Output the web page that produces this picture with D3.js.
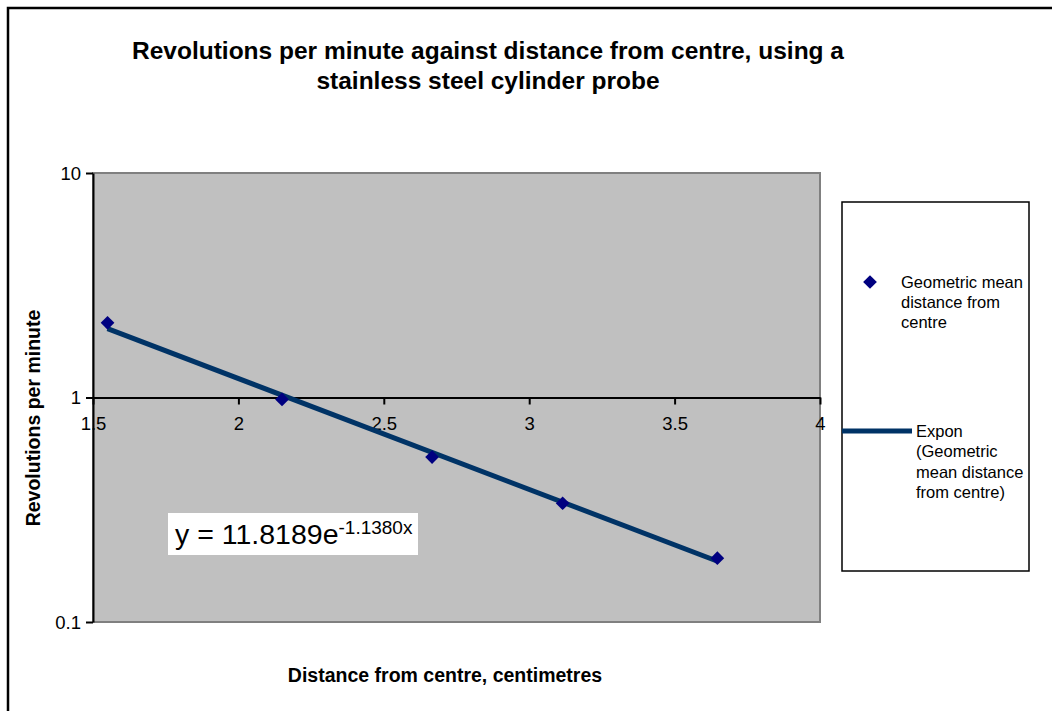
<!DOCTYPE html>
<html>
<head>
<meta charset="utf-8">
<script src="https://cdn.jsdelivr.net/npm/d3@7"></script>
<style>
  body { margin: 0; background: #fff; }
  text { font-family: Arial, "Liberation Sans", sans-serif; }
</style>
</head>
<body>
<div id="div_chart"></div>
<script>
// measured points: distance (cm) and revolutions per minute
const distance = [1.55, 2.15, 2.666, 3.115, 3.647];
const rpm = [2.15, 0.98, 0.543, 0.338, 0.1925];

// trendline ends
const trendX = [1.55, 3.65];
const trendY = [2.025, 0.186];

const xTicks = [1.5, 2, 2.5, 3, 3.5, 4];
const yTicks = [0.1, 1, 10];

const seriesName = ["Geometric mean", "distance from", "centre"];
const trendName = ["Expon", "(Geometric", "mean distance", "from centre)"];

// set the dimensions of the page and the plot area
const W = 1052, H = 711;
const plot = {left: 93, right: 820, top: 173, bottom: 622};

const svg = d3.select("#div_chart")
  .append("svg")
    .attr("width", W)
    .attr("height", H);

// outer frame (left and top edges visible)
svg.append("path")
  .attr("d", `M8,${H} L8,8 L${W},8`)
  .attr("fill", "none")
  .attr("stroke", "#000")
  .attr("stroke-width", 2.5);

// title
svg.append("text")
  .attr("text-anchor", "middle")
  .attr("font-weight", "bold")
  .attr("font-size", 24.5)
  .selectAll("tspan")
  .data(["Revolutions per minute against distance from centre, using a", "stainless steel cylinder probe"])
  .join("tspan")
    .attr("x", 488)
    .attr("y", (d, i) => 59 + i * 30)
    .text(d => d);

// scales
const x = d3.scaleLinear()
  .domain([1.5, 4])
  .range([plot.left, plot.right]);
const y = d3.scaleLog()
  .domain([0.1, 10])
  .range([plot.bottom, plot.top]);

// plot area
svg.append("rect")
  .attr("x", plot.left)
  .attr("y", plot.top)
  .attr("width", plot.right - plot.left)
  .attr("height", plot.bottom - plot.top)
  .attr("fill", "#c0c0c0")
  .attr("stroke", "#808080")
  .attr("stroke-width", 2);

// Y axis
const yAxis = svg.append("g")
  .attr("transform", `translate(${plot.left},0)`)
  .call(d3.axisLeft(y).tickValues(yTicks).tickFormat(d3.format("")).tickSize(7).tickSizeOuter(0));
yAxis.attr("font-size", 18.5);
yAxis.select(".domain").attr("stroke", "#000").attr("stroke-width", 2);
yAxis.selectAll(".tick line").attr("stroke-width", 2);
yAxis.selectAll(".tick text")
  .attr("fill", "#000")
  .attr("x", -12)
  .attr("dy", "0.35em");

// X axis, crossing at y = 1
const xAxis = svg.append("g")
  .attr("transform", `translate(0,${y(1)})`)
  .call(d3.axisBottom(x).tickValues(xTicks).tickFormat(d3.format("")).tickSize(7).tickSizeOuter(0));
xAxis.attr("font-size", 18.5);
xAxis.select(".domain").attr("stroke", "#000").attr("stroke-width", 2);
xAxis.selectAll(".tick line").attr("stroke-width", 2);
xAxis.selectAll(".tick text")
  .attr("fill", "#000")
  .attr("y", 19);

// axis titles
svg.append("text")
  .attr("transform", `translate(40,418) rotate(-90)`)
  .attr("text-anchor", "middle")
  .attr("font-weight", "bold")
  .attr("font-size", 19.5)
  .text("Revolutions per minute");
svg.append("text")
  .attr("x", 445)
  .attr("y", 682)
  .attr("text-anchor", "middle")
  .attr("font-weight", "bold")
  .attr("font-size", 19.5)
  .text("Distance from centre, centimetres");

// trendline
const trend = trendX.map((d, i) => ({x: d, y: trendY[i]}));
svg.append("path")
  .datum(trend)
  .attr("d", d3.line().x(d => x(d.x)).y(d => y(d.y)))
  .attr("fill", "none")
  .attr("stroke", "#003366")
  .attr("stroke-width", 5);

// points
const diamond = d3.symbol().type(d3.symbolDiamond2).size(120);
svg.selectAll(".pt")
  .data(distance.map((d, i) => ({x: d, y: rpm[i]})))
  .join("path")
    .attr("class", "pt")
    .attr("d", diamond)
    .attr("transform", d => `translate(${x(d.x)},${y(d.y)})`)
    .attr("fill", "#000080");

// equation label
svg.append("rect")
  .attr("x", 168).attr("y", 513)
  .attr("width", 250).attr("height", 42)
  .attr("fill", "#fff");
const eq = svg.append("text")
  .attr("x", 175)
  .attr("y", 544)
  .attr("font-size", 28.5)
  .attr("fill", "#000");
eq.append("tspan").text("y = 11.8189e");
eq.append("tspan")
  .attr("font-size", 19)
  .attr("dy", -10)
  .text("-1.1380x");

// legend
svg.append("rect")
  .attr("x", 842).attr("y", 202)
  .attr("width", 187).attr("height", 369)
  .attr("fill", "#fff")
  .attr("stroke", "#000")
  .attr("stroke-width", 1.5);
svg.append("path")
  .attr("d", diamond)
  .attr("transform", "translate(870,282)")
  .attr("fill", "#000080");
svg.append("text")
  .attr("font-size", 16.5)
  .selectAll("tspan")
  .data(seriesName)
  .join("tspan")
    .attr("x", 901)
    .attr("y", (d, i) => 288 + i * 20)
    .text(d => d);
svg.append("line")
  .attr("x1", 842).attr("x2", 912)
  .attr("y1", 431).attr("y2", 431)
  .attr("stroke", "#003366")
  .attr("stroke-width", 5);
svg.append("text")
  .attr("font-size", 16.5)
  .selectAll("tspan")
  .data(trendName)
  .join("tspan")
    .attr("x", 916)
    .attr("y", (d, i) => 437 + i * 20.3)
    .text(d => d);
</script>
</body>
</html>
